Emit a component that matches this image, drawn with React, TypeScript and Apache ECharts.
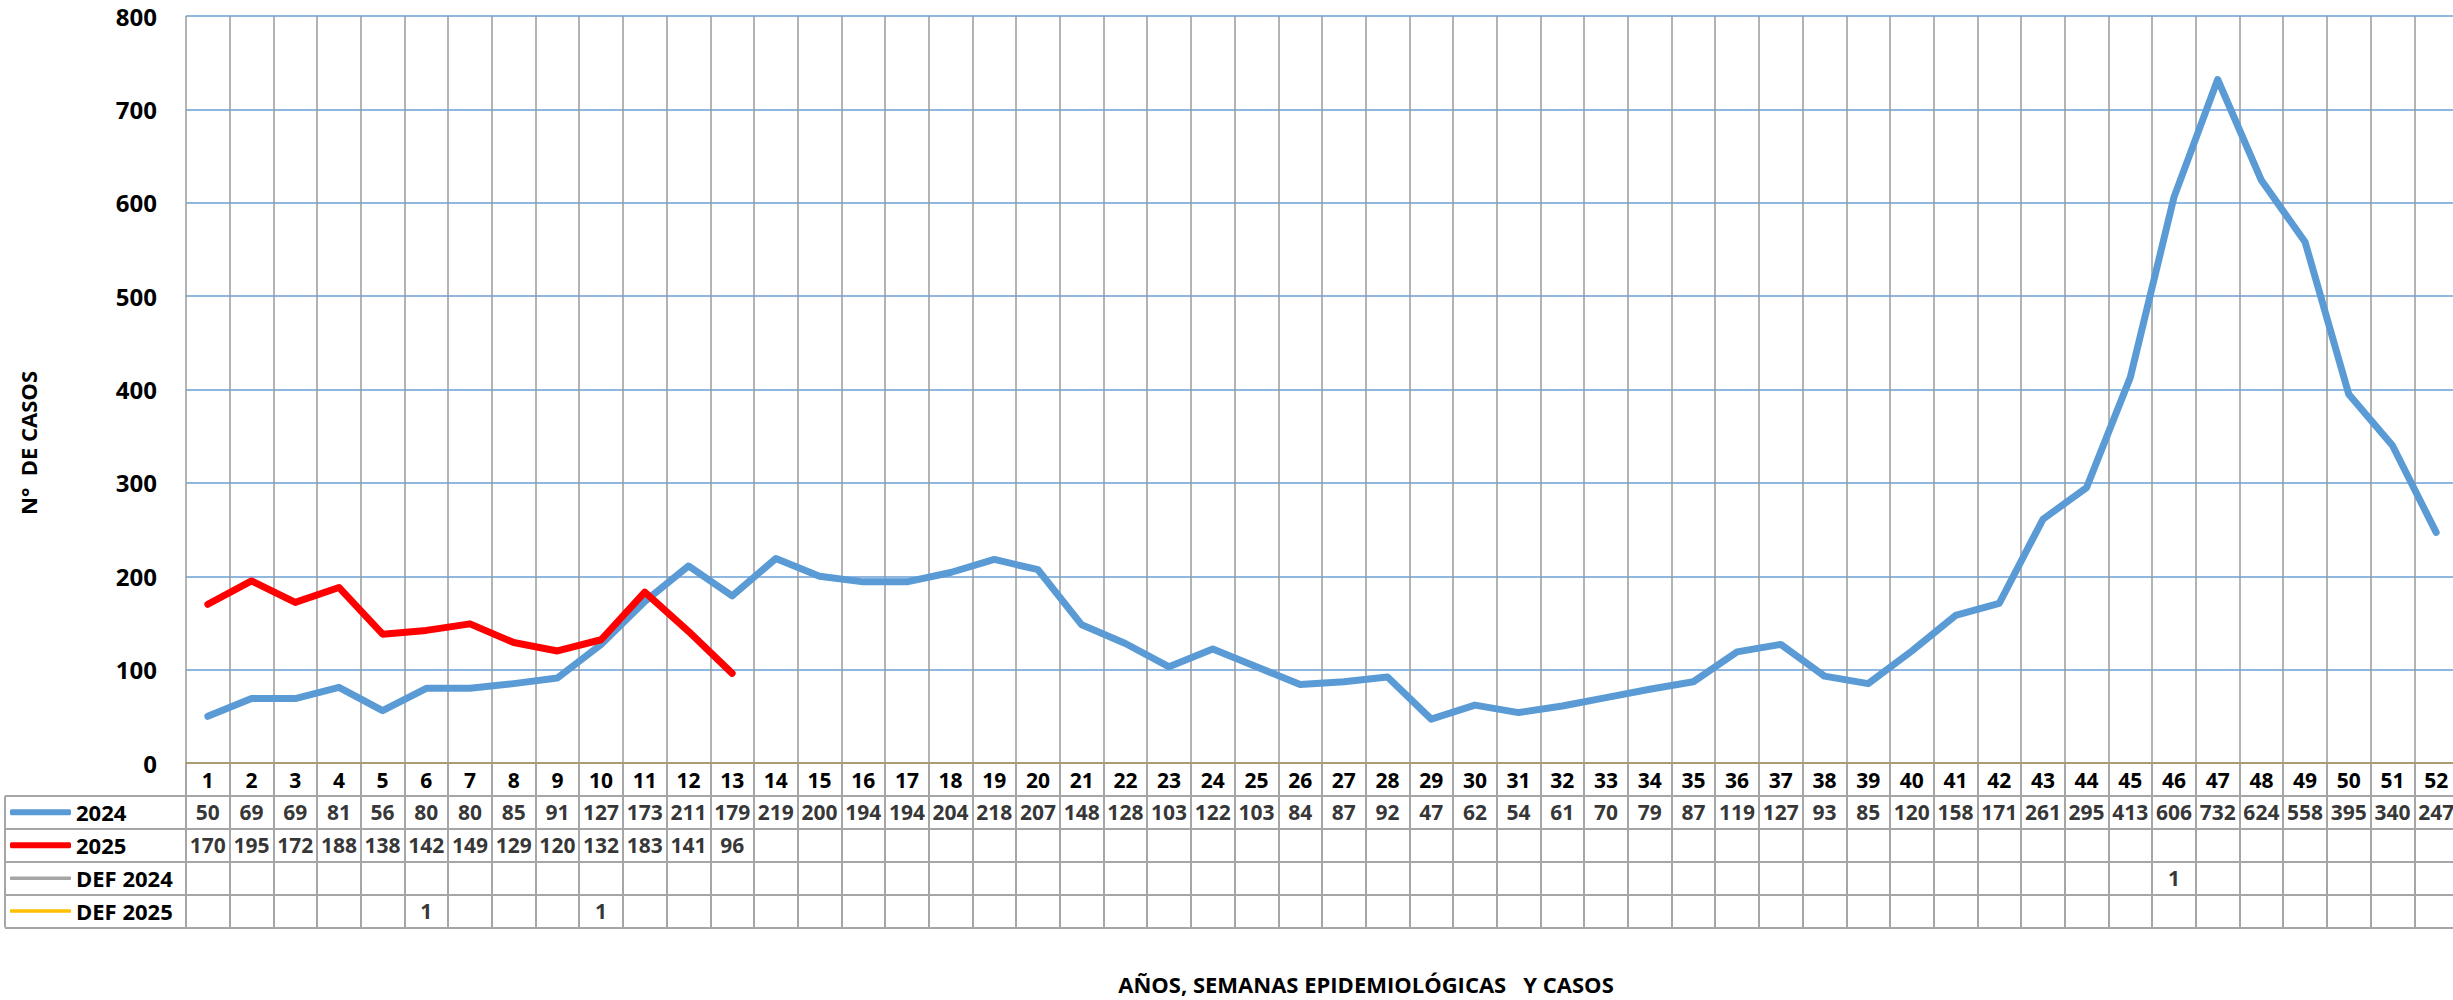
import React, { useEffect, useRef } from "react";
import * as echarts from "echarts";

const weeks = [
  "1", "2", "3", "4", "5", "6", "7", "8", "9", "10", "11", "12", "13",
  "14", "15", "16", "17", "18", "19", "20", "21", "22", "23", "24", "25", "26",
  "27", "28", "29", "30", "31", "32", "33", "34", "35", "36", "37", "38", "39",
  "40", "41", "42", "43", "44", "45", "46", "47", "48", "49", "50", "51", "52",
];

const cases2024 = [
  50, 69, 69, 81, 56, 80, 80, 85, 91, 127, 173, 211, 179,
  219, 200, 194, 194, 204, 218, 207, 148, 128, 103, 122, 103, 84,
  87, 92, 47, 62, 54, 61, 70, 79, 87, 119, 127, 93, 85,
  120, 158, 171, 261, 295, 413, 606, 732, 624, 558, 395, 340, 247,
];

const cases2025 = [170, 195, 172, 188, 138, 142, 149, 129, 120, 132, 183, 141, 96];

const def2024Weeks = ["46"];
const def2024Values = [1];
const def2025Weeks = ["6", "10"];
const def2025Values = [1, 1];

const tableRows = ["", "2024", "2025", "DEF 2024", "DEF 2025"];

const FONT = '"Open Sans", "DejaVu Sans", sans-serif';

function sparseToFull(ws: string[], vs: number[]) {
  return weeks.map((w) => {
    const k = ws.indexOf(w);
    return k >= 0 ? vs[k] : null;
  });
}

export default function App() {
  const ref = useRef<HTMLDivElement>(null);

  useEffect(() => {
    if (!ref.current) return;
    const chart = echarts.init(ref.current, undefined, { renderer: "svg" });

    const def2024 = sparseToFull(def2024Weeks, def2024Values);
    const def2025 = sparseToFull(def2025Weeks, def2025Values);

    const cells: any[] = [];
    cases2024.forEach((v, i) => cells.push([weeks[i], "2024", v]));
    cases2025.forEach((v, i) => cells.push([weeks[i], "2025", v]));
    def2024Weeks.forEach((w, i) => cells.push([w, "DEF 2024", def2024Values[i]]));
    def2025Weeks.forEach((w, i) => cells.push([w, "DEF 2025", def2025Values[i]]));

    const tableTop = 763;
    const tableH = 164.5;
    const rowH = tableH / tableRows.length;

    const legendDefs = [
      { name: "2024", h: 6, row: 1 },
      { name: "2025", h: 6, row: 2 },
      { name: "DEF 2024", h: 3.5, row: 3 },
      { name: "DEF 2025", h: 3.5, row: 4 },
    ];

    const gridLine = { show: true, lineStyle: { color: "#9a9a9a", width: 1.5 } };
    const tableLine = { show: true, lineStyle: { color: "#a6a6a6", width: 2 } };

    const lineSeries = (name: string, data: any[], color: string, width: number) => ({
      name,
      type: "line",
      xAxisIndex: 0,
      yAxisIndex: 0,
      data,
      symbol: "none",
      showSymbol: false,
      connectNulls: false,
      color,
      lineStyle: { color, width, cap: "round", join: "round" },
      z: 5,
    });

    chart.setOption({
      animation: false,
      backgroundColor: "#ffffff",
      textStyle: { fontFamily: FONT },
      grid: [
        { left: 186, top: 16, width: 2272, height: 747 },
        { left: 186, top: tableTop, width: 2272, height: tableH },
        { left: 5, top: tableTop + rowH, width: 181, height: tableH - rowH },
      ],
      xAxis: [
        {
          type: "category",
          gridIndex: 0,
          data: weeks,
          boundaryGap: true,
          z: 4,
          axisLine: { show: true, lineStyle: { color: "#a99c70", width: 2 } },
          axisTick: { show: false },
          axisLabel: {
            show: true,
            margin: 6,
            interval: 0,
            fontSize: 21,
            fontWeight: "bold",
            fontFamily: FONT,
            color: "#000",
          },
          splitLine: { ...gridLine, interval: 0 },
        },
        {
          type: "category",
          gridIndex: 1,
          data: weeks,
          boundaryGap: true,
          axisLine: { show: false },
          axisTick: { show: false },
          axisLabel: { show: false },
          splitLine: { ...tableLine, interval: 0 },
        },
        {
          type: "category",
          gridIndex: 2,
          data: [""],
          boundaryGap: true,
          axisLine: { show: false },
          axisTick: { show: false },
          axisLabel: { show: false },
          splitLine: { ...tableLine, interval: 0 },
        },
      ],
      yAxis: [
        {
          type: "value",
          gridIndex: 0,
          min: 0,
          max: 800,
          interval: 100,
          axisLine: { show: false },
          axisTick: { show: false },
          axisLabel: {
            margin: 29,
            fontSize: 24,
            fontWeight: "bold",
            fontFamily: FONT,
            color: "#000",
          },
          splitLine: { show: true, lineStyle: { color: "#6a9fd6", width: 1.5 } },
        },
        {
          type: "category",
          gridIndex: 1,
          data: tableRows,
          inverse: true,
          boundaryGap: true,
          axisLine: { show: false },
          axisTick: { show: false },
          axisLabel: { show: false },
          splitLine: { ...tableLine, interval: 0 },
        },
        {
          type: "category",
          gridIndex: 2,
          data: tableRows.slice(1),
          inverse: true,
          boundaryGap: true,
          axisLine: { show: false },
          axisTick: { show: false },
          axisLabel: { show: false },
          splitLine: { ...tableLine, interval: 0 },
        },
      ],
      legend: legendDefs.map((l) => ({
        data: [l.name],
        left: 10,
        top: tableTop + rowH * (l.row + 0.5) - 11,
        orient: "vertical",
        padding: 0,
        itemWidth: 61,
        itemHeight: l.h,
        icon: "roundRect",
        selectedMode: false,
        textStyle: { fontSize: 22, fontWeight: "bold", fontFamily: FONT, color: "#000" },
      })),
      graphic: [
        {
          type: "text",
          x: 28,
          y: 443,
          rotation: Math.PI / 2,
          style: {
            text: "N°  DE CASOS",
            font: `bold 22px ${FONT}`,
            fill: "#000",
            align: "center",
            verticalAlign: "middle",
          },
        },
        {
          type: "text",
          x: 1366,
          y: 984,
          style: {
            text: "AÑOS, SEMANAS EPIDEMIOLÓGICAS   Y CASOS",
            font: `bold 22px ${FONT}`,
            fill: "#000",
            align: "center",
            verticalAlign: "middle",
          },
        },
      ],
      series: [
        lineSeries("2024", cases2024, "#5b9bd5", 7),
        lineSeries("2025", cases2025, "#ff0000", 7),
        lineSeries("DEF 2024", def2024, "#a5a5a5", 3),
        lineSeries("DEF 2025", def2025, "#ffc000", 3),
        {
          name: "table",
          type: "scatter",
          xAxisIndex: 1,
          yAxisIndex: 1,
          data: cells,
          symbol: "circle",
          symbolSize: 1,
          silent: true,
          itemStyle: { color: "rgba(0,0,0,0)" },
          label: {
            show: true,
            position: "inside",
            formatter: (p: any) => String(p.value[2]),
            fontSize: 21,
            fontWeight: "bold",
            fontFamily: FONT,
            color: "#000",
          },
        },
      ],
    });

    return () => chart.dispose();
  }, []);

  return (
    <div
      style={{
        position: "absolute",
        left: 0,
        top: 0,
        width: 2453,
        height: 1000,
        overflow: "hidden",
        background: "#fff",
      }}
    >
      <div ref={ref} style={{ width: 2460, height: 1000 }} />
    </div>
  );
}
